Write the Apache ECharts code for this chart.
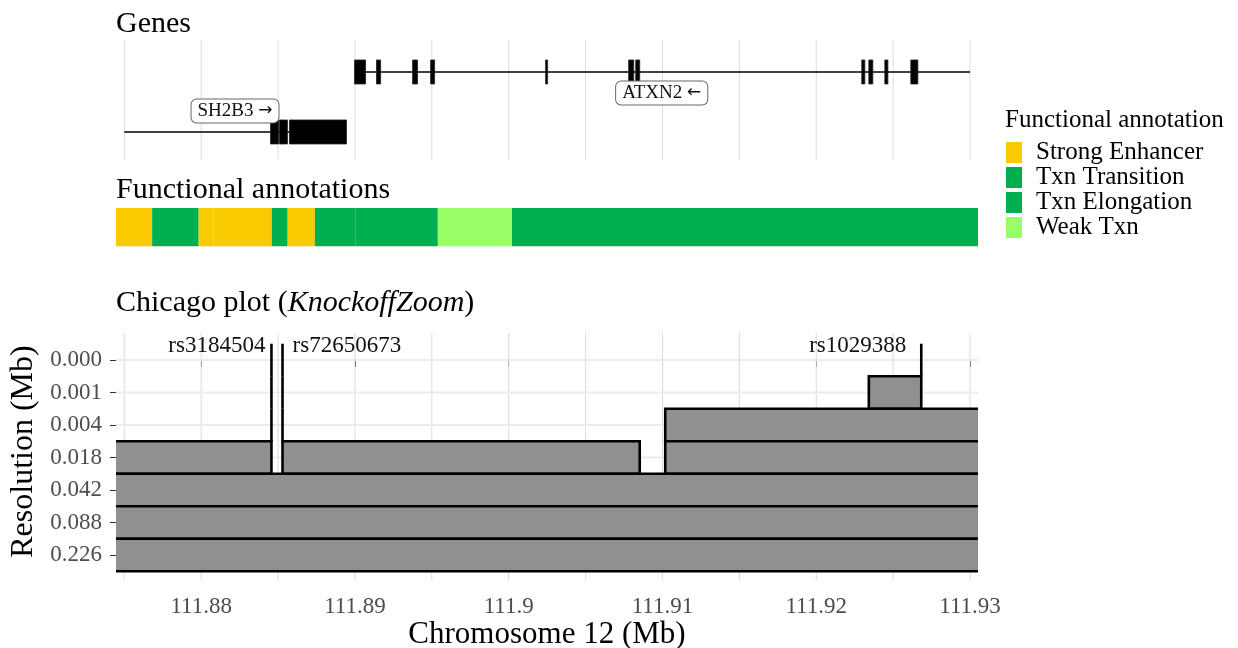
<!DOCTYPE html>
<html>
<head>
<meta charset="utf-8">
<script src="https://cdn.jsdelivr.net/npm/echarts@6/dist/echarts.min.js"></script>
<style>
  html, body { margin: 0; padding: 0; background: #fff; }
  #chart { width: 1238px; height: 648px; }
</style>
</head>
<body>
<div id="chart"></div>
<script>
// ---------- genomic window (Mb on chromosome 12) ----------
const viewStart = 111.87446;
const viewEnd = 111.93052;
const xTickValues = [111.88, 111.89, 111.90, 111.91, 111.92, 111.93];
const xTickLabels = ['111.88', '111.89', '111.9', '111.91', '111.92', '111.93'];
const xGridValues = [111.875, 111.88, 111.885, 111.89, 111.895, 111.90, 111.905,
                     111.91, 111.915, 111.92, 111.925, 111.93];

// ---------- genes ----------
const geneNames = ['ATXN2', 'SH2B3'];
const geneArrows = ['\u2190', '\u2192'];
const geneStarts = [111.88997, 111.875];
const geneEnds = [111.93, 111.88945];
const geneLabelX = [111.90995, 111.88220];
const atxn2ExonStarts = [111.88997, 111.89140, 111.89375, 111.89492, 111.90240, 111.90780,
                         111.90826, 111.92296, 111.92342, 111.92446, 111.92615];
const atxn2ExonEnds = [111.89069, 111.89167, 111.89407, 111.89518, 111.90253, 111.90813,
                       111.90852, 111.92316, 111.92368, 111.92466, 111.92661];
const sh2b3ExonStarts = [111.88451, 111.88509, 111.88574];
const sh2b3ExonEnds = [111.88503, 111.88561, 111.88945];

// ---------- chromatin state segments ----------
const annotTypes = ['Strong Enhancer', 'Txn Transition', 'Txn Elongation', 'Weak Txn'];
const annotColors = ['#FACA00', '#00B050', '#00B050', '#99FF66'];
const segStarts = [111.87440, 111.87681, 111.87982, 111.88080, 111.88459,
                   111.88561, 111.88739, 111.89002, 111.89539, 111.90021];
const segEnds = [111.87681, 111.87982, 111.88080, 111.88459, 111.88561,
                 111.88739, 111.89002, 111.89539, 111.90021, 111.93060];
const segTypes = ['Strong Enhancer', 'Txn Transition', 'Strong Enhancer', 'Strong Enhancer',
                  'Txn Transition', 'Strong Enhancer', 'Txn Transition', 'Txn Elongation',
                  'Weak Txn', 'Txn Elongation'];

// ---------- KnockoffZoom discoveries ----------
const resolutionLabels = ['0.000', '0.001', '0.004', '0.018', '0.042', '0.088', '0.226'];
const snpNames = ['rs3184504', 'rs72650673', 'rs1029388'];
const snpPos = [111.88457, 111.88529, 111.92683];
// discovered groups: resolution level index, start, end (Mb)
const groupLevel = [0, 0, 0, 1, 1, 1, 2, 2, 2, 3, 3, 3, 4, 5, 6];
const groupStart = [111.88457, 111.88529, 111.92683,
                    111.88457, 111.88529, 111.92342,
                    111.88457, 111.88529, 111.91018,
                    111.87400, 111.88529, 111.91018,
                    111.87400, 111.87400, 111.87400];
const groupEnd = [111.88457, 111.88529, 111.92683,
                  111.88457, 111.88529, 111.92683,
                  111.88457, 111.88529, 111.93100,
                  111.88457, 111.90852, 111.93100,
                  111.93100, 111.93100, 111.93100];

// ---------- drawing ----------
const SERIF = '"Liberation Serif", "DejaVu Serif", serif';
const chart = echarts.init(document.getElementById('chart'), null, { renderer: 'canvas' });

const gridLeft = 116, gridRight = 260;
// label placement of SNP names relative to their line: [side, horizontal nudge in px]
const snpLabelStyle = [['left', -6], ['right', 10], ['left', -15]];

function verticalGrid(params, api, color) {
  const cs = params.coordSys;
  const x = api.coord([api.value(0), 0])[0];
  return {
    type: 'line',
    shape: { x1: x, y1: cs.y, x2: x, y2: cs.y + cs.height },
    style: { stroke: color, lineWidth: 1 }
  };
}

function renderGene(params, api) {
  const g = api.value(0);
  const starts = g === 0 ? atxn2ExonStarts : sh2b3ExonStarts;
  const ends = g === 0 ? atxn2ExonEnds : sh2b3ExonEnds;
  const a = api.coord([geneStarts[g], g]);
  const b = api.coord([geneEnds[g], g]);
  const children = [{
    type: 'line',
    shape: { x1: a[0], y1: a[1], x2: b[0], y2: b[1] },
    style: { stroke: '#000', lineWidth: 1.5 }
  }];
  for (let i = 0; i < starts.length; i++) {
    const p = api.coord([starts[i], g]);
    const q = api.coord([ends[i], g]);
    children.push({
      type: 'rect',
      shape: { x: p[0], y: p[1] - 12, width: Math.max(q[0] - p[0], 1.5), height: 24 },
      style: { fill: '#000', stroke: '#222', lineWidth: 0.8 }
    });
  }
  const lp = api.coord([geneLabelX[g], g]);
  const dy = g === 0 ? 21 : -21;
  children.push({
    type: 'text',
    z2: 10,
    style: {
      text: '{n|' + geneNames[g] + ' }{a|' + geneArrows[g] + '}',
      x: lp[0], y: lp[1] + dy,
      align: 'center', verticalAlign: 'middle',
      rich: {
        n: { font: '19px ' + SERIF, fill: '#111' },
        a: { font: '17px "DejaVu Sans", sans-serif', fill: '#111' }
      },
      backgroundColor: '#fff', borderColor: '#666', borderWidth: 1, borderRadius: 5,
      padding: [2, 6, 2, 6]
    }
  });
  return { type: 'group', children: children };
}

function renderSegment(params, api) {
  const p = api.coord([api.value(0), 0]);
  const q = api.coord([api.value(1), 1]);
  return {
    type: 'rect',
    shape: { x: p[0], y: q[1], width: q[0] - p[0], height: p[1] - q[1] },
    style: { fill: api.visual('color') }
  };
}

function renderGroup(params, api) {
  const lvl = api.value(2);
  const p = api.coord([api.value(0), lvl - 0.5]);
  const q = api.coord([api.value(1), lvl + 0.5]);
  const w = q[0] - p[0];
  if (w < 0.5) {
    return {
      type: 'line',
      shape: { x1: p[0], y1: p[1], x2: p[0], y2: q[1] },
      style: { stroke: '#000', lineWidth: 2.6 }
    };
  }
  return {
    type: 'rect',
    shape: { x: p[0], y: p[1], width: w, height: q[1] - p[1] },
    style: { fill: '#909090', stroke: '#000', lineWidth: 2.6 }
  };
}

function renderSnpLabel(params, api) {
  const i = api.value(0);
  const p = api.coord([snpPos[i], -0.5]);
  const side = snpLabelStyle[i][0];
  return {
    type: 'text',
    style: {
      text: snpNames[i],
      x: p[0] + snpLabelStyle[i][1], y: p[1] + 2,
      align: side === 'left' ? 'right' : 'left', verticalAlign: 'middle',
      font: '23px ' + SERIF, fill: '#111'
    }
  };
}

const levelIdx = resolutionLabels.map((_, i) => i);
const titleStyle = { fontFamily: SERIF, fontSize: 30, fontWeight: 'normal', color: '#000' };

const option = {
  animation: false,
  backgroundColor: '#fff',
  title: [
    { text: 'Genes', left: 111, top: 4, textStyle: titleStyle },
    { text: 'Functional annotations', left: 111, top: 170, textStyle: titleStyle },
    { text: '{n|Chicago plot (}{i|KnockoffZoom}{n|)}', left: 111, top: 283,
      textStyle: {
        fontWeight: 'normal',
        rich: {
          n: { fontFamily: SERIF, fontSize: 30, fontWeight: 'normal', color: '#000' },
          i: { fontFamily: SERIF, fontSize: 30, fontWeight: 'normal', fontStyle: 'italic', color: '#000' }
        }
      } },
    { text: 'Functional annotation', left: 1000, top: 103,
      textStyle: { fontFamily: SERIF, fontSize: 25, fontWeight: 'normal', color: '#000' } }
  ],
  legend: {
    orient: 'vertical', left: 1001, top: 135,
    itemWidth: 16, itemHeight: 21, itemGap: 0,
    icon: 'rect', selectedMode: false,
    textStyle: { fontFamily: SERIF, fontSize: 25, lineHeight: 19, color: '#000', padding: [4, 0, 0, 9] },
    data: annotTypes
  },
  grid: [
    { left: gridLeft, right: gridRight, top: 40, height: 120, outerBoundsMode: 'none', containLabel: false },
    { left: gridLeft, right: gridRight, top: 208, height: 38.5, outerBoundsMode: 'none', containLabel: false },
    { left: gridLeft, right: gridRight, top: 333, height: 247, outerBoundsMode: 'none', containLabel: false }
  ],
  xAxis: [
    { gridIndex: 0, type: 'value', min: viewStart, max: viewEnd, show: false },
    { gridIndex: 1, type: 'value', min: viewStart, max: viewEnd, show: false },
    {
      gridIndex: 2, type: 'value', min: viewStart, max: viewEnd,
      name: 'Chromosome 12 (Mb)', nameLocation: 'middle', nameGap: 39,
      nameTextStyle: { fontFamily: SERIF, fontSize: 31, color: '#000' },
      axisLine: { show: false },
      axisTick: { show: true, length: 7, customValues: xTickValues,
                  lineStyle: { color: '#333', width: 1 } },
      axisLabel: { customValues: xTickValues, margin: 15,
                   fontFamily: SERIF, fontSize: 23, color: '#4d4d4d',
                   formatter: v => xTickLabels[xTickValues.findIndex(t => Math.abs(t - v) < 1e-6)] },
      splitLine: { show: false }
    }
  ],
  yAxis: [
    { gridIndex: 0, type: 'value', min: -0.533, max: 1.467, inverse: true, show: false },
    { gridIndex: 1, type: 'value', min: 0, max: 1, show: false },
    {
      gridIndex: 2, type: 'value', min: -0.83, max: 6.77, inverse: true,
      name: 'Resolution (Mb)', nameLocation: 'middle', nameGap: 72,
      nameTextStyle: { fontFamily: SERIF, fontSize: 32, color: '#000', padding: [0, 0, 0, 10] },
      axisLine: { show: false },
      axisTick: { show: true, length: 6, customValues: levelIdx,
                  lineStyle: { color: '#333', width: 1 } },
      axisLabel: { customValues: levelIdx, margin: 14,
                   fontFamily: SERIF, fontSize: 23, color: '#4d4d4d',
                   formatter: v => resolutionLabels[Math.round(v)] },
      splitLine: { show: false }
    }
  ],
  series: [
    // background grid of the genes track
    { type: 'custom', xAxisIndex: 0, yAxisIndex: 0, z: 1, silent: true,
      data: xGridValues.map(v => [v]),
      renderItem: (p, api) => verticalGrid(p, api, '#dcdcdc') },
    // background grid of the Chicago plot
    { type: 'custom', xAxisIndex: 2, yAxisIndex: 2, z: 1, silent: true,
      data: xGridValues.map(v => [v]),
      renderItem: (p, api) => verticalGrid(p, api, '#dadada') },
    { type: 'custom', xAxisIndex: 2, yAxisIndex: 2, z: 1, silent: true,
      data: levelIdx.map(v => [v]),
      renderItem: (params, api) => {
        const cs = params.coordSys;
        const y = api.coord([viewStart, api.value(0)])[1];
        return { type: 'line', shape: { x1: cs.x, y1: y, x2: cs.x + cs.width, y2: y },
                 style: { stroke: '#ebebeb', lineWidth: 2 } };
      } },
    // gene models
    { type: 'custom', xAxisIndex: 0, yAxisIndex: 0, z: 3, silent: true,
      data: geneNames.map((_, i) => [i]),
      renderItem: renderGene },
    // chromatin states, one series per state for the legend
    ...annotTypes.map((t, k) => ({
      type: 'custom', name: t, xAxisIndex: 1, yAxisIndex: 1, z: 3, clip: true, silent: true,
      itemStyle: { color: annotColors[k] },
      data: segTypes.map((s, i) => [segStarts[i], segEnds[i], s])
                    .filter(d => d[2] === t).map(d => [d[0], d[1]]),
      renderItem: renderSegment
    })),
    // nested discovered groups
    { type: 'custom', xAxisIndex: 2, yAxisIndex: 2, z: 3, clip: true, silent: true,
      data: groupLevel.map((l, i) => [groupStart[i], groupEnd[i], l]),
      renderItem: renderGroup },
    // SNP names
    { type: 'custom', xAxisIndex: 2, yAxisIndex: 2, z: 4, silent: true,
      data: snpNames.map((_, i) => [i]),
      renderItem: renderSnpLabel }
  ]
};

chart.setOption(option);
</script>
</body>
</html>
